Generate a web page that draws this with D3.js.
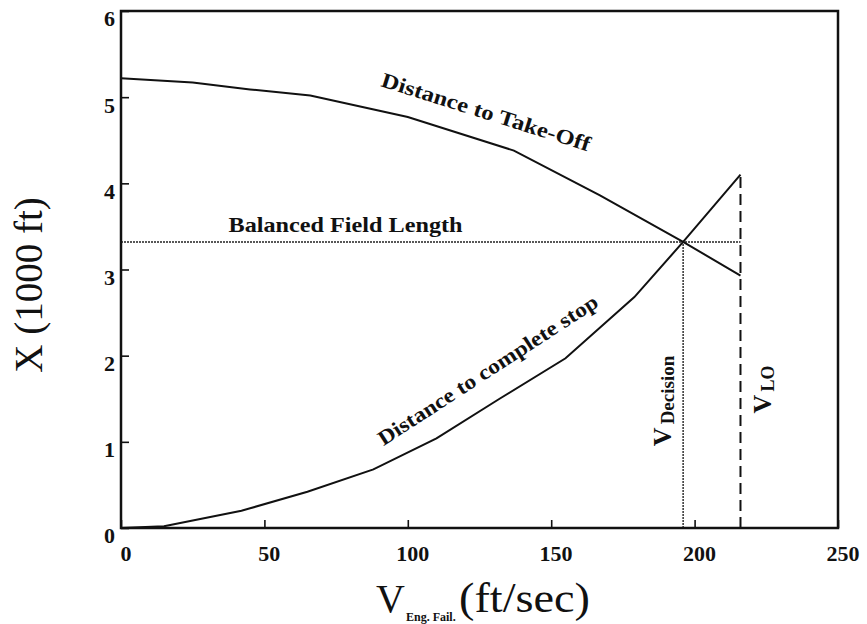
<!DOCTYPE html>
<html>
<head>
<meta charset="utf-8">
<script src="https://cdn.jsdelivr.net/npm/d3@7"></script>
<style>
  body { margin: 0; background: #fff; }
  svg { display: block; }
  text { fill: #111; }
</style>
</head>
<body>
<svg id="chart" width="867" height="624"></svg>
<script>
// values: speed (ft/sec) vs distance (1000 ft)
var takeOffV = [0, 25, 45, 66, 100, 137, 167, 196, 216];
var takeOffX = [5.22, 5.17, 5.09, 5.02, 4.77, 4.38, 3.86, 3.32, 2.93];
var stopV = [0, 15, 42, 65, 88, 110, 132, 155, 179, 196, 216];
var stopX = [0, 0.02, 0.2, 0.42, 0.68, 1.04, 1.5, 1.97, 2.68, 3.32, 4.1];
var vDecision = 196;
var vLiftOff = 216;
var balancedField = 3.32;
var xTicks = [0, 50, 100, 150, 200, 250];
var yTicks = [0, 1, 2, 3, 4, 5, 6];

var serif = "'Liberation Serif', Tinos, 'Times New Roman', 'Nimbus Roman', 'DejaVu Serif', serif";

var svg = d3.select("#chart").style("font-family", serif);
var x = d3.scaleLinear().domain([0, 250]).range([121, 838]);
var y = d3.scaleLinear().domain([0, 6]).range([528, 11]);

var line = d3.line()
    .x(function (d) { return x(d[0]); })
    .y(function (d) { return y(d[1]); });

var takeOff = d3.zip(takeOffV, takeOffX);
var stop = d3.zip(stopV, stopX);

// guide lines
svg.append("path")
    .attr("d", line([[0, balancedField], [vLiftOff, balancedField]]))
    .attr("stroke", "#222").attr("stroke-width", 1.4)
    .attr("stroke-dasharray", "2,1").attr("fill", "none");
svg.append("path")
    .attr("d", line([[vDecision, 0], [vDecision, balancedField]]))
    .attr("stroke", "#222").attr("stroke-width", 1.4)
    .attr("stroke-dasharray", "2,1").attr("fill", "none");
svg.append("path")
    .attr("d", line([[vLiftOff, 0], [vLiftOff, stopX[stopX.length - 1]]]))
    .attr("stroke", "#111").attr("stroke-width", 2)
    .attr("stroke-dasharray", "11,6").attr("fill", "none");

// curves
svg.selectAll("path.curve")
    .data([takeOff, stop])
    .enter().append("path")
    .attr("class", "curve")
    .attr("d", line)
    .attr("stroke", "#111")
    .attr("stroke-width", 2)
    .attr("fill", "none");

// axes (ticks pointing inward)
var xAxis = svg.append("g")
    .attr("transform", "translate(0," + y(0) + ")")
    .call(d3.axisBottom(x).tickValues(xTicks).tickFormat(d3.format("d"))
        .tickSizeInner(-8).tickSizeOuter(0).tickPadding(17));
var yAxis = svg.append("g")
    .attr("transform", "translate(" + x(0) + ",0)")
    .call(d3.axisLeft(y).tickValues(yTicks).tickFormat(d3.format("d"))
        .tickSizeInner(-8).tickSizeOuter(0).tickPadding(6));
[xAxis, yAxis].forEach(function (g) {
    g.attr("font-family", null).attr("font-size", null);
    g.select(".domain").remove();
    g.selectAll("line").attr("stroke", "#111").attr("stroke-width", 1.6);
    g.selectAll("text")
        .style("font-size", "22px")
        .style("font-weight", "bold")
        .attr("fill", "#111");
});
xAxis.selectAll("text").attr("dx", "0.2em");
yAxis.selectAll("text").attr("dy", "0.68em");

// frame
svg.append("rect")
    .attr("x", x(0)).attr("y", y(6))
    .attr("width", x(250) - x(0)).attr("height", y(0) - y(6))
    .attr("fill", "none").attr("stroke", "#111").attr("stroke-width", 2.5);

// curve labels
function label(txt, v, d, angle, size, len) {
    return svg.append("text")
        .attr("transform", "translate(" + x(v) + "," + y(d) + ") rotate(" + angle + ")")
        .style("font-size", size + "px")
        .style("font-weight", "bold")
        .attr("textLength", len)
        .attr("lengthAdjust", "spacingAndGlyphs")
        .text(txt);
}
label("Distance to Take-Off", 90.3, 5.13, 17.5, 21, 218);
label("Distance to complete stop", 91.5, 0.95, -33, 21, 258);
label("Balanced Field Length", 37.5, 3.43, 0, 21, 234);

// speed markers
function speedLabel(main, sub, px, py, size, subSize) {
    var t = svg.append("text")
        .attr("transform", "translate(" + px + "," + py + ") rotate(-90)")
        .style("font-weight", "bold");
    t.append("tspan").style("font-size", size + "px").text(main);
    t.append("tspan").style("font-size", subSize + "px").attr("dx", 3).attr("dy", 3).text(sub);
}
speedLabel("V", "Decision", x(vDecision) - 12, y(0.95), 26, 19);
speedLabel("V", "LO", x(vLiftOff) + 31, y(1.33), 26, 18);

// axis titles
svg.append("text")
    .attr("transform", "translate(42,285) rotate(-90)")
    .attr("text-anchor", "middle")
    .style("font-size", "39px")
    .text("X (1000 ft)");

svg.append("text")
    .attr("x", 376).attr("y", 612)
    .style("font-size", "40px")
    .text("V");
svg.append("text")
    .attr("x", 406).attr("y", 621)
    .style("font-size", "12px").style("font-weight", "bold")
    .text("Eng. Fail.");
svg.append("text")
    .attr("x", 459).attr("y", 612)
    .style("font-size", "42px")
    .attr("textLength", 131).attr("lengthAdjust", "spacingAndGlyphs")
    .text("(ft/sec)");
</script>
</body>
</html>
